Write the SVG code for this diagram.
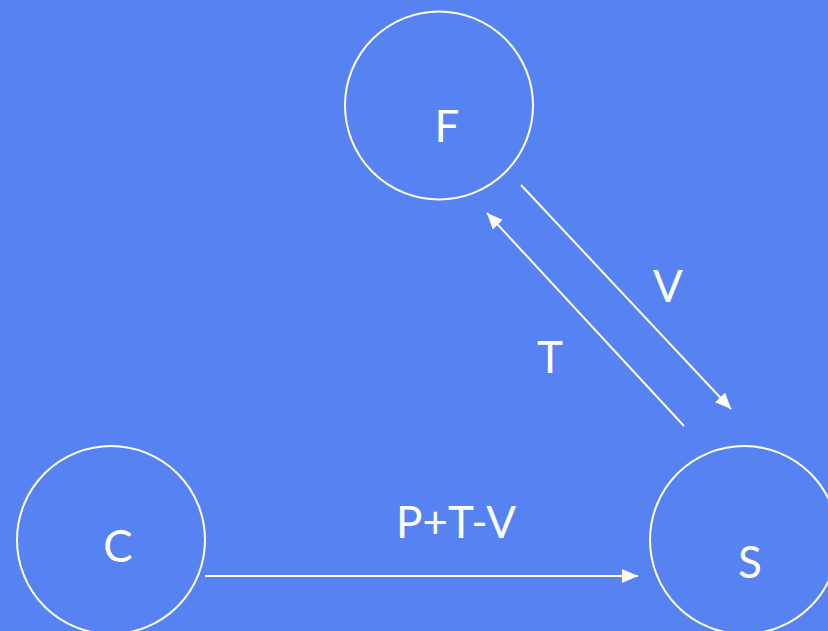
<svg xmlns="http://www.w3.org/2000/svg" width="828" height="631" viewBox="0 0 828 631">
  <defs>
    <marker id="head" viewBox="0 0 16 14" refX="16" refY="7" markerWidth="16" markerHeight="14" markerUnits="userSpaceOnUse" orient="auto">
      <path d="M0,0 L16,7 L0,14 z" fill="#ffffff"/>
    </marker>
    <style>
      .node { fill: none; stroke: #ffffff; stroke-width: 2; }
      .label { fill: #ffffff; font-family: Lato, "Open Sans", "Liberation Sans", sans-serif; font-size: 44px; text-anchor: middle; }
      .edge { stroke: #ffffff; stroke-width: 2; fill: none; marker-end: url(#head); }
    </style>
  </defs>
  <rect x="0" y="0" width="828" height="631" fill="#5683f1"/>

  <g id="node-F">
    <circle class="node" cx="439" cy="105.5" r="94"/>
    <text class="label" x="447" y="142">F</text>
  </g>
  <g id="node-C">
    <circle class="node" cx="111" cy="540" r="94"/>
    <text class="label" x="118" y="562">C</text>
  </g>
  <g id="node-S">
    <circle class="node" cx="744" cy="540" r="94"/>
    <text class="label" x="750" y="578">S</text>
  </g>

  <g id="connectors">
    <line class="edge" x1="521" y1="185" x2="731" y2="409"/>
    <line class="edge" x1="684" y1="426" x2="487" y2="213"/>
    <line class="edge" x1="205" y1="576" x2="638" y2="576"/>
    <text class="label" x="668" y="302">V</text>
    <text class="label" x="550" y="373">T</text>
    <text class="label" x="456" y="538">P+T-V</text>
  </g>
</svg>
